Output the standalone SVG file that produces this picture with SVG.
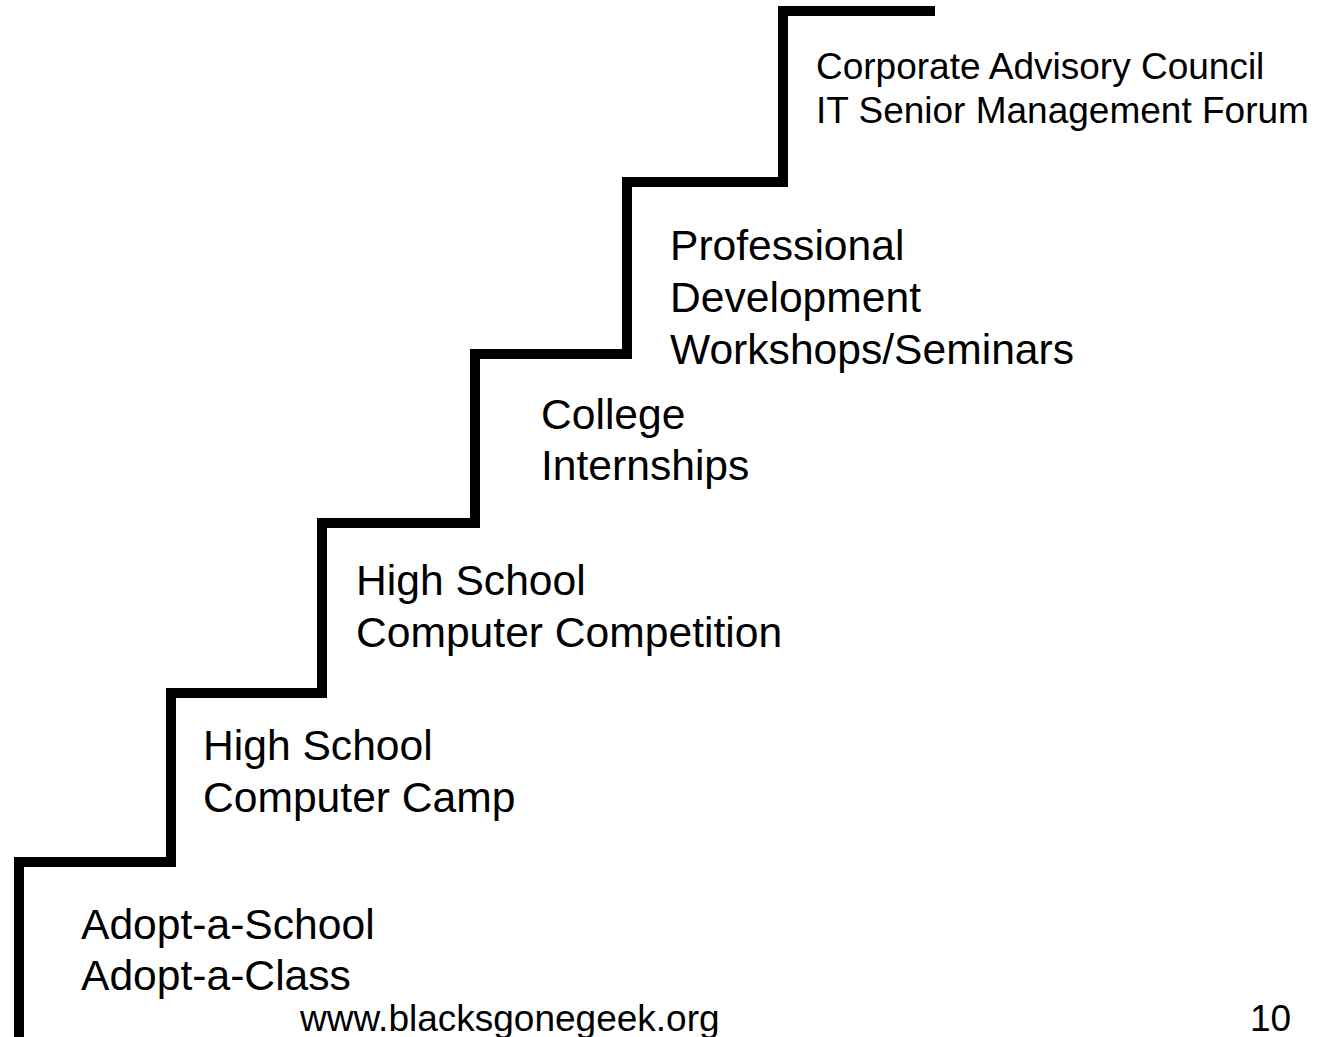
<svg xmlns="http://www.w3.org/2000/svg" width="1328" height="1037" viewBox="0 0 1328 1037">
<style>
.t{font-family:"Liberation Sans",Arial,sans-serif;fill:#000}
.big{font-size:42.6px}
.sm{font-size:37px}
.stair{fill:none;stroke:#000;stroke-width:10;stroke-linejoin:miter;stroke-linecap:butt}
</style>
<rect width="1328" height="1037" fill="#fff"/>
<g id="connectors">
<path class="stair" d="M19,1037 V862 H171 V693 H322 V523 H475 V354 H627 V182 H783 V11 H935"/>
</g>
<g id="step1"><text class="t big" x="81" y="939">Adopt-a-School</text><text class="t big" x="81" y="990">Adopt-a-Class</text></g>
<g id="step2"><text class="t big" x="203" y="760">High School</text><text class="t big" x="203" y="812">Computer Camp</text></g>
<g id="step3"><text class="t big" x="356" y="595">High School</text><text class="t big" x="356" y="647">Computer Competition</text></g>
<g id="step4"><text class="t big" x="541" y="429">College</text><text class="t big" x="541" y="480">Internships</text></g>
<g id="step5"><text class="t big" x="670" y="260">Professional</text><text class="t big" x="670" y="312">Development</text><text class="t big" x="670" y="364">Workshops/Seminars</text></g>
<g id="step6"><text class="t sm" x="816" y="79">Corporate Advisory Council</text><text class="t sm" x="816" y="123">IT Senior Management Forum</text></g>
<g id="footer"><text class="t sm" x="300" y="1031">www.blacksgonegeek.org</text><text class="t sm" x="1250" y="1031">10</text></g>
</svg>
